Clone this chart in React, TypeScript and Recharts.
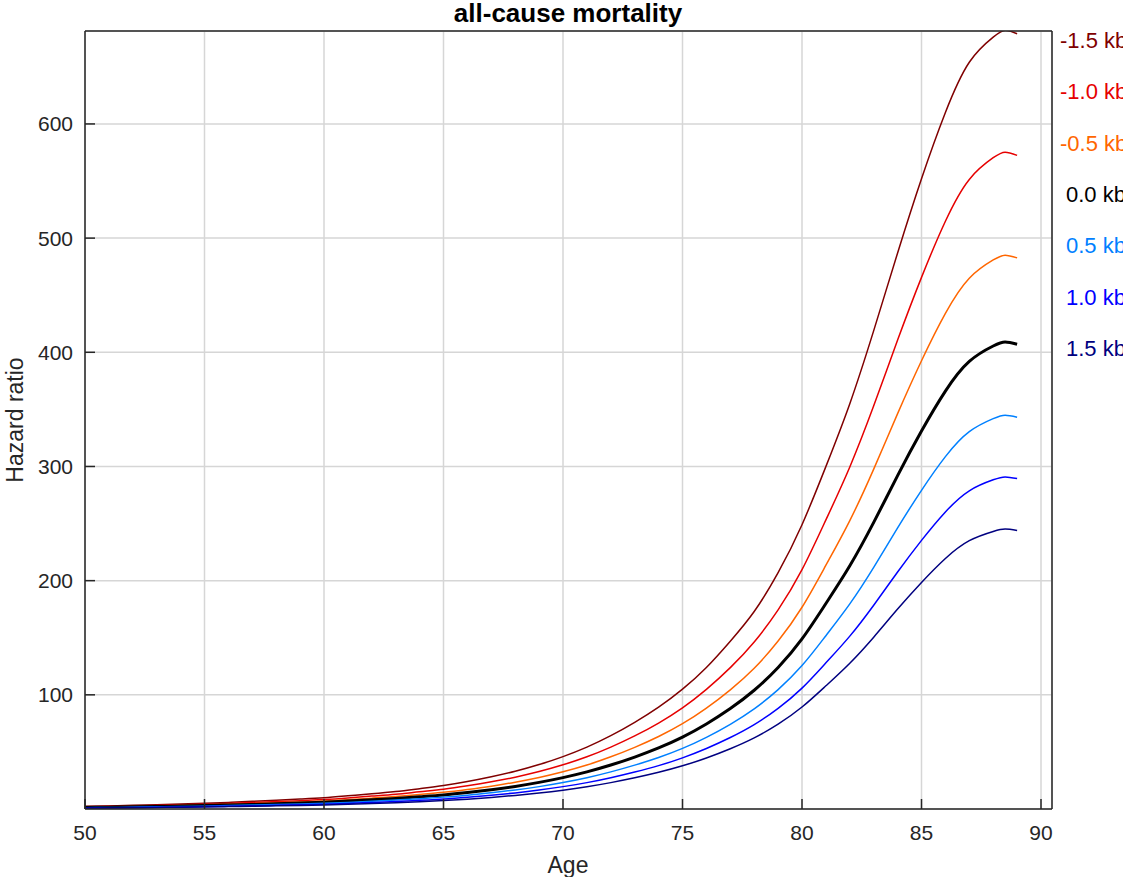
import React from 'react';
import { LineChart, Line, XAxis, YAxis, CartesianGrid } from 'recharts';

const AGES = [
  50, 51, 52, 53, 54, 55, 56, 57, 58, 59, 60, 61, 62, 63, 64, 65, 66, 67, 68, 69,
  70, 71, 72, 73, 74, 75, 76, 77, 78, 79, 80, 81, 82, 83, 84, 85, 86, 87, 88, 88.5, 89,
];

// hazard ratio per telomere length difference
const HR_M15 = [
  2.3, 2.7, 3.2, 3.7, 4.3, 5.0, 5.8, 6.7, 7.7, 8.7, 9.8, 11.5, 13.3, 15.3, 17.8, 20.5, 24.0, 28.2, 33.0, 38.9,
  45.9, 54.2, 64.2, 75.9, 89.2, 105, 124, 147, 173, 207, 249, 300, 355, 419, 487, 552, 610, 654, 676, 682, 679,
];
const HR_M10 = [
  2.0, 2.3, 2.7, 3.1, 3.7, 4.2, 4.9, 5.6, 6.5, 7.3, 8.3, 9.7, 11.3, 12.9, 15.1, 17.3, 20.3, 23.8, 27.9, 32.8,
  38.7, 45.7, 54.2, 64.0, 75.3, 88.6, 104.8, 123.8, 146.3, 174.4, 209.6, 253.2, 299.6, 353.1, 410.7, 465.6, 514.8, 551.4, 570.4, 575.3, 572.5,
];
const HR_M05 = [
  1.7, 1.9, 2.3, 2.6, 3.1, 3.6, 4.2, 4.7, 5.5, 6.2, 7.0, 8.2, 9.5, 10.9, 12.7, 14.6, 17.1, 20.0, 23.5, 27.6,
  32.6, 38.5, 45.7, 54.0, 63.5, 74.7, 88.4, 104.4, 123.3, 147.1, 176.7, 213.5, 252.6, 297.7, 346.3, 392.6, 434.1, 464.9, 480.9, 485.1, 482.7,
];
const HR_00 = [
  1.4, 1.6, 1.9, 2.2, 2.6, 3.0, 3.5, 4.0, 4.6, 5.2, 5.9, 6.9, 8.0, 9.2, 10.7, 12.3, 14.4, 16.9, 19.8, 23.3,
  27.5, 32.5, 38.5, 45.5, 53.5, 63, 74.5, 88, 104, 124, 149, 180, 213, 251, 292, 331, 366, 392, 405.5, 409, 407,
];
const HR_P05 = [
  1.2, 1.3, 1.6, 1.9, 2.2, 2.5, 3.0, 3.4, 3.9, 4.4, 5.0, 5.8, 6.7, 7.8, 9.0, 10.4, 12.1, 14.3, 16.7, 19.6,
  23.2, 27.4, 32.5, 38.4, 45.1, 53.1, 62.8, 74.2, 87.7, 104.6, 125.6, 151.8, 179.6, 211.6, 246.2, 279.1, 308.6, 330.5, 341.9, 344.9, 343.2,
];
const HR_P10 = [
  1.0, 1.1, 1.4, 1.6, 1.8, 2.1, 2.5, 2.8, 3.3, 3.7, 4.2, 4.9, 5.7, 6.5, 7.6, 8.7, 10.2, 12.0, 14.1, 16.6,
  19.6, 23.1, 27.4, 32.4, 38.0, 44.8, 53.0, 62.6, 73.9, 88.2, 105.9, 128.0, 151.4, 178.5, 207.6, 235.3, 260.2, 278.7, 288.3, 290.8, 289.4,
];
const HR_P15 = [
  0.8, 1.0, 1.1, 1.3, 1.6, 1.8, 2.1, 2.4, 2.8, 3.1, 3.5, 4.1, 4.8, 5.5, 6.4, 7.4, 8.6, 10.1, 11.9, 14.0,
  16.5, 19.5, 23.1, 27.3, 32.1, 37.8, 44.7, 52.8, 62.3, 74.3, 89.3, 107.9, 127.7, 150.5, 175.1, 198.4, 219.4, 235.0, 243.1, 245.2, 244.0,
];

const X_TICKS = [50, 55, 60, 65, 70, 75, 80, 85, 90];
const Y_TICKS = [100, 200, 300, 400, 500, 600];

const SERIES = [
  { key: 'm15', label: '-1.5 kb', color: '#800000', values: HR_M15 },
  { key: 'm10', label: '-1.0 kb', color: '#e60000', values: HR_M10 },
  { key: 'm05', label: '-0.5 kb', color: '#ff6600', values: HR_M05 },
  { key: 'z00', label: '0.0 kb', color: '#000000', values: HR_00 },
  { key: 'p05', label: '0.5 kb', color: '#0080ff', values: HR_P05 },
  { key: 'p10', label: '1.0 kb', color: '#0000ff', values: HR_P10 },
  { key: 'p15', label: '1.5 kb', color: '#000080', values: HR_P15 },
];

const data = AGES.map((age, i) => {
  const row: Record<string, number> = { age };
  SERIES.forEach((s) => {
    row[s.key] = s.values[i];
  });
  return row;
});

const FONT = '"Liberation Sans", Arial, Helvetica, sans-serif';
const AX = '#262626';
const tickStyle = { fontSize: 21, fill: AX, fontFamily: FONT };

export default function App() {
  return (
    <div style={{ position: 'absolute', left: 0, top: 0, width: 1123, height: 877, background: '#fff' }}>
      <LineChart
        width={1123}
        height={877}
        data={data}
        margin={{ top: 0, right: 0, bottom: 0, left: 0 }}
      >
        <CartesianGrid stroke="#d6d6d6" strokeWidth={1.5} />
        <XAxis
          type="number"
          dataKey="age"
          domain={[50, 90.46]}
          ticks={X_TICKS}
          height={68}
          tickSize={-10}
          tickMargin={26}
          tick={tickStyle}
          stroke={AX}
          axisLine={{ stroke: AX, strokeWidth: 1.5 }}
          tickLine={{ stroke: AX, strokeWidth: 1.5 }}
          allowDataOverflow
        />
        <XAxis
          xAxisId="top"
          orientation="top"
          type="number"
          domain={[50, 90.46]}
          ticks={X_TICKS}
          height={31}
          tickSize={-10}
          tick={false}
          axisLine={{ stroke: AX, strokeWidth: 1.5 }}
          tickLine={{ stroke: AX, strokeWidth: 1.5 }}
          allowDataOverflow
        />
        <YAxis
          type="number"
          domain={[0, 681.4]}
          ticks={Y_TICKS}
          width={85}
          tickSize={-10}
          tickMargin={22}
          tick={tickStyle}
          axisLine={{ stroke: AX, strokeWidth: 1.5 }}
          tickLine={{ stroke: AX, strokeWidth: 1.5 }}
          allowDataOverflow
        />
        <YAxis
          yAxisId="right"
          orientation="right"
          type="number"
          domain={[0, 681.4]}
          ticks={Y_TICKS}
          width={71}
          tickSize={-10}
          tick={false}
          axisLine={{ stroke: AX, strokeWidth: 1.5 }}
          tickLine={{ stroke: AX, strokeWidth: 1.5 }}
          allowDataOverflow
        />
        {SERIES.map((s) => (
          <Line
            key={s.key}
            dataKey={s.key}
            type="natural"
            stroke={s.color}
            strokeWidth={s.key === 'z00' ? 3 : 1.5}
            dot={false}
            activeDot={false}
            isAnimationActive={false}
          />
        ))}
      </LineChart>
      <svg
        width={1123}
        height={877}
        style={{ position: 'absolute', left: 0, top: 0, pointerEvents: 'none' }}
      >
        <text x={568} y={22} textAnchor="middle" fontFamily={FONT} fontWeight="bold" fontSize={26} fill="#000">
          all-cause mortality
        </text>
        <text x={568} y={873} textAnchor="middle" fontFamily={FONT} fontSize={23} fill={AX}>
          Age
        </text>
        <text
          x={0}
          y={0}
          transform="translate(23,420) rotate(-90)"
          textAnchor="middle"
          fontFamily={FONT}
          fontSize={23}
          fill={AX}
        >
          Hazard ratio
        </text>
        {SERIES.map((s, i) => (
          <text
            key={s.key}
            x={s.label.startsWith('-') ? 1060 : 1066}
            y={48 + i * 51.3}
            fontFamily={FONT}
            fontSize={22}
            fill={s.color}
          >
            {s.label}
          </text>
        ))}
      </svg>
    </div>
  );
}
